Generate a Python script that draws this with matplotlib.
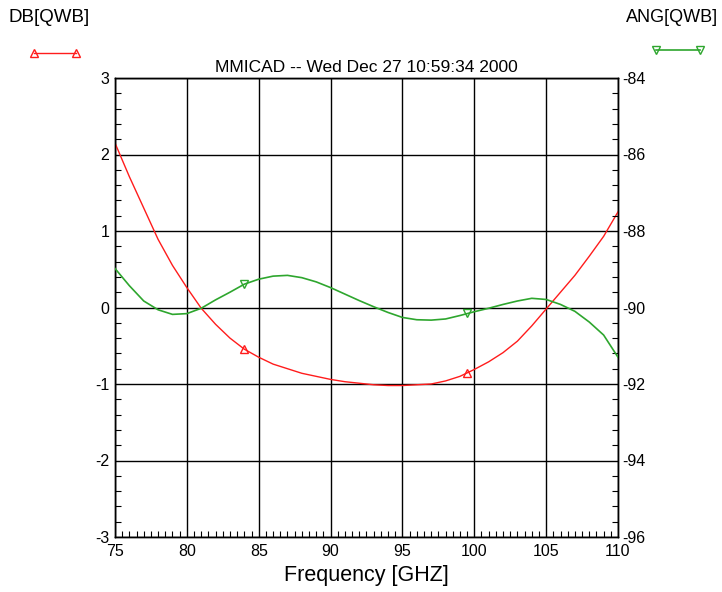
import numpy as np
import matplotlib
matplotlib.use('Agg')
import matplotlib.pyplot as plt
from matplotlib.lines import Line2D
from matplotlib.ticker import MultipleLocator

plt.rcParams['font.family'] = ['Liberation Sans', 'DejaVu Sans']
plt.rcParams['axes.unicode_minus'] = False

# frequency points (GHz)
freq = [75, 76, 77, 78, 79, 80, 81, 82, 83, 84, 85, 86, 87, 88, 89, 90,
        91, 92, 93, 94, 95, 96, 97, 98, 99, 100, 101, 102, 103, 104, 105,
        106, 107, 108, 109, 110]
# DB[QWB] (left axis)
db_qwb = [2.15, 1.71, 1.30, 0.89, 0.55, 0.26, -0.01, -0.22, -0.40, -0.545,
          -0.65, -0.74, -0.80, -0.86, -0.90, -0.94, -0.97, -0.99, -1.01, -1.02,
          -1.02, -1.01, -1.00, -0.96, -0.90, -0.81, -0.71, -0.59, -0.44, -0.24,
          -0.02, 0.20, 0.42, 0.67, 0.93, 1.25]
# ANG[QWB] (right axis)
ang_qwb = [-88.98, -89.43, -89.83, -90.06, -90.18, -90.16, -90.02, -89.80,
           -89.60, -89.39, -89.26, -89.18, -89.16, -89.22, -89.33, -89.48,
           -89.65, -89.82, -89.98, -90.13, -90.26, -90.32, -90.33, -90.30,
           -90.21, -90.11, -90.02, -89.92, -89.83, -89.76, -89.79, -89.92,
           -90.10, -90.38, -90.72, -91.30]

marker_freq = [84, 99.5]
db_markers = [-0.545, -0.86]
ang_markers = [-89.39, -90.15]

red = '#ff1c1c'
green = '#2ea62e'

fig = plt.figure(figsize=(7.22, 5.92), dpi=100)
ax = fig.add_axes([115 / 722, 1 - 537 / 592, 503 / 722, 459 / 592])
ax2 = ax.twinx()

ax.plot(freq, db_qwb, color=red, lw=1.0, zorder=3)
ax.plot(marker_freq, db_markers, ls='none', marker='^', ms=6, mfc='none',
        mec=red, mew=1.0, zorder=3)
ax2.plot(freq, ang_qwb, color=green, lw=1.2, zorder=3)
ax2.plot(marker_freq, ang_markers, ls='none', marker='v', ms=6, mfc='none',
         mec=green, mew=1.0, zorder=3)

ax.set_xlim(75, 110)
ax.set_ylim(-3, 3)
ax2.set_ylim(-96, -84)

ax.xaxis.set_major_locator(MultipleLocator(5))
ax.xaxis.set_minor_locator(MultipleLocator(0.5))
ax.yaxis.set_major_locator(MultipleLocator(1))
ax.yaxis.set_minor_locator(MultipleLocator(0.2))
ax2.yaxis.set_major_locator(MultipleLocator(2))
ax2.yaxis.set_minor_locator(MultipleLocator(0.4))

ax.grid(True, which='major', color='black', lw=1.0)
ax.set_axisbelow(True)

ax.tick_params(axis='x', which='major', length=0, labelsize=11.5, pad=5)
ax.tick_params(axis='x', which='minor', direction='in', length=4, width=0.8)
ax.tick_params(axis='y', which='major', length=0, labelsize=11.5, pad=4)
ax.tick_params(axis='y', which='minor', direction='in', length=4, width=0.8)
ax2.tick_params(axis='y', which='major', length=0, labelsize=11.5, pad=3)
ax2.tick_params(axis='y', which='minor', direction='in', length=4, width=0.8)

for a in (ax, ax2):
    for sp in a.spines.values():
        sp.set_color('black')
        sp.set_linewidth(1.0)

ax.set_xlabel('Frequency [GHZ]', fontsize=15.5, labelpad=4)
ax.set_title('MMICAD -- Wed Dec 27 10:59:34 2000', fontsize=12.5, pad=4)

# legend headers and samples
fig.text(8 / 722, 1 - 17 / 592, 'DB[QWB]', fontsize=13.5, va='center', ha='left')
fig.text(718 / 722, 1 - 17 / 592, 'ANG[QWB]', fontsize=13, va='center', ha='right')
fig.add_artist(Line2D([34 / 722, 76 / 722], [1 - 53 / 592] * 2,
                      transform=fig.transFigure, color=red, lw=1.0,
                      marker='^', ms=6, mfc='none', mec=red))
fig.add_artist(Line2D([656 / 722, 700 / 722], [1 - 50 / 592] * 2,
                      transform=fig.transFigure, color=green, lw=1.2,
                      marker='v', ms=6, mfc='none', mec=green))

fig.savefig('out.png', dpi=100)
